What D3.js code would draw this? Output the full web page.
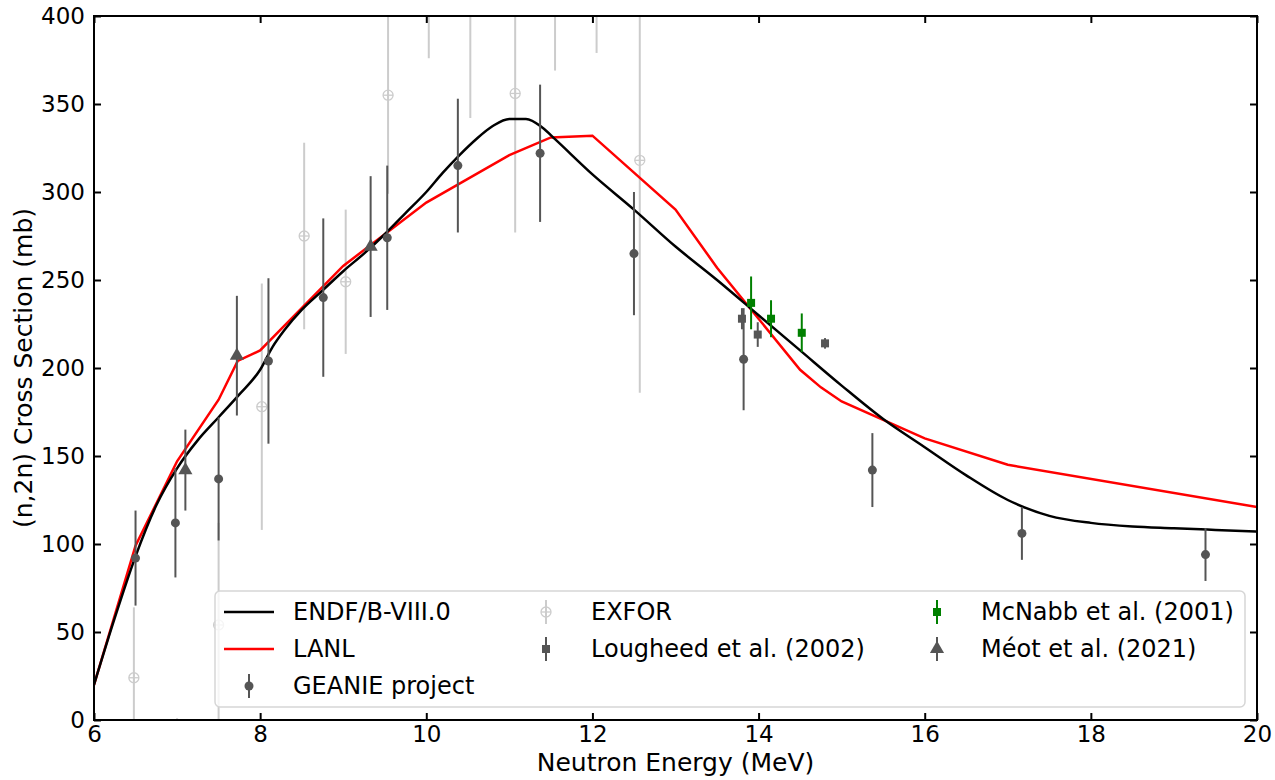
<!DOCTYPE html>
<html>
<head>
<meta charset="utf-8">
<script src="https://cdn.jsdelivr.net/npm/d3@7"></script>
<style>
  body { margin: 0; background: #fff; }
  text { font-family: "DejaVu Sans", sans-serif; }
</style>
</head>
<body>
<div id="content"></div>
<script>
// evaluated cross sections (MeV, mb)
endfE = [6.0, 6.25, 6.5, 6.75, 7.0, 7.25, 7.5, 7.75, 8.0, 8.15, 8.3, 8.5, 8.75, 9.0, 9.25, 9.5, 9.75, 10.0, 10.2, 10.4, 10.6, 10.8, 11.0, 11.2, 11.4, 11.55, 12.0, 12.5, 13.0, 13.5, 14.0, 14.5, 15.0, 15.5, 16.0, 16.5, 17.0, 17.5, 18.0, 18.5, 19.0, 19.5, 20.0]
endfXS = [20, 58, 93, 122, 143, 159, 172, 185, 199, 212, 222, 233, 244, 255, 265, 276, 288, 300, 311, 321, 330, 337.5, 341.5, 341.5, 336.5, 330, 310, 290, 269, 250, 230, 210, 190, 171, 155, 139, 125, 116, 112, 110, 109, 108, 107]
lanlE = [6.0, 6.5, 7.0, 7.5, 7.73, 8.0, 8.5, 9.0, 9.5, 10.0, 11.0, 11.5, 12.0, 13.0, 13.5, 14.0, 14.5, 14.75, 15.0, 16.0, 17.0, 20.0]
lanlXS = [20, 99, 147, 182, 204, 210, 234, 258, 276, 294, 321, 331, 332, 290, 257, 228, 199, 189, 181, 160, 145, 121]

// measurements: energy, value, error
exforE = [6.48, 7.0, 7.5, 8.02, 8.53, 9.03, 9.54, 10.03, 10.53, 11.07, 11.55, 12.05, 12.57]
exforXS = [24, -4, 54, 178, 275, 249, 355, 440, 415, 356, 440, 440, 318]
exforErr = [40, 5, 58, 70, 53, 41, 56, 64, 73, 79, 71, 61, 132]

geanieE = [6.5, 6.98, 7.5, 8.1, 8.76, 9.53, 10.38, 11.37, 12.5, 13.82, 15.37, 17.17, 19.38]
geanieXS = [92, 112, 137, 204, 240, 274, 315, 322, 265, 205, 142, 106, 94]
geanieErr = [27, 31, 35, 47, 45, 41, 38, 39, 35, 29, 21, 15, 15]

lougheedE = [13.8, 13.99, 14.8]
lougheedXS = [228, 219, 214]
lougheedErr = [6, 7, 3]

mcnabbE = [13.91, 14.15, 14.52]
mcnabbXS = [237, 228, 220]
mcnabbErr = [15, 10.5, 11]

meotE = [7.1, 7.72, 9.33]
meotXS = [142, 207, 269]
meotErr = [23, 34, 40]

xTicks = [6, 8, 10, 12, 14, 16, 18, 20]
yTicks = [0, 50, 100, 150, 200, 250, 300, 350, 400]

svgwidth = 1275
svgheight = 780
margin = {top: 16, right: 18, bottom: 60, left: 94}
width = svgwidth - margin.left - margin.right
height = svgheight - margin.top - margin.bottom

darkGray = "#555555"
lightGray = "#cccccc"
green = "#008000"

var x = d3.scaleLinear().domain([6, 20]).range([0, width])
var y = d3.scaleLinear().domain([0, 400]).range([height, 0])

var svg = d3.select("#content").append("svg")
  .attr("width", svgwidth)
  .attr("height", svgheight)

svg.append("defs").append("clipPath").attr("id", "clip")
  .append("rect").attr("width", width).attr("height", height)

g = svg.append("g").attr("transform", "translate(" + margin.left + "," + margin.top + ")")
plot = g.append("g").attr("clip-path", "url(#clip)")

zip = function(es, vs, errs) {
  return es.map(function(e, i) { return {e: e, v: vs[i], err: errs ? errs[i] : 0} })
}

drawBars = function(data, color) {
  plot.append("g").selectAll("line").data(data).enter().append("line")
    .attr("x1", function(d) { return x(d.e) })
    .attr("x2", function(d) { return x(d.e) })
    .attr("y1", function(d) { return y(d.v - d.err) })
    .attr("y2", function(d) { return y(d.v + d.err) })
    .attr("stroke", color)
    .attr("stroke-width", 2)
}

// marker drawing helpers, also used in the legend
circleMark = function(sel, color, r) {
  sel.append("circle").attr("r", r).attr("fill", color)
}
squareMark = function(sel, color, s) {
  sel.append("rect").attr("x", -s / 2).attr("y", -s / 2).attr("width", s).attr("height", s).attr("fill", color)
}
triMark = function(sel, color, s) {
  sel.append("path").attr("d", d3.symbol(d3.symbolTriangle, s * s * 0.6)).attr("fill", color)
}
oplusMark = function(sel, color, r) {
  sel.append("circle").attr("r", r).attr("fill", "none").attr("stroke", color).attr("stroke-width", 1.3)
  sel.append("line").attr("x1", -r).attr("x2", r).attr("stroke", color).attr("stroke-width", 1.3)
  sel.append("line").attr("y1", -r).attr("y2", r).attr("stroke", color).attr("stroke-width", 1.3)
}

drawMarks = function(data, fn, color, size) {
  plot.append("g").selectAll("g").data(data).enter().append("g")
    .attr("transform", function(d) { return "translate(" + x(d.e) + "," + y(d.v) + ")" })
    .each(function() { fn(d3.select(this), color, size) })
}

// EXFOR behind the curves
exfor = zip(exforE, exforXS, exforErr)
drawBars(exfor, lightGray)
drawMarks(exfor, oplusMark, lightGray, 5)

var line = d3.line().x(function(d) { return x(d.e) }).y(function(d) { return y(d.v) })
plot.append("path").datum(zip(lanlE, lanlXS))
  .attr("d", line).attr("fill", "none").attr("stroke", "#ff0000").attr("stroke-width", 2.5)
plot.append("path").datum(zip(endfE, endfXS))
  .attr("d", line.curve(d3.curveMonotoneX)).attr("fill", "none").attr("stroke", "#000").attr("stroke-width", 2.5)

geanie = zip(geanieE, geanieXS, geanieErr)
drawBars(geanie, darkGray)
drawMarks(geanie, circleMark, darkGray, 4.5)

lougheed = zip(lougheedE, lougheedXS, lougheedErr)
drawBars(lougheed, darkGray)
drawMarks(lougheed, squareMark, darkGray, 8)

mcnabb = zip(mcnabbE, mcnabbXS, mcnabbErr)
drawBars(mcnabb, green)
drawMarks(mcnabb, squareMark, green, 8)

meot = zip(meotE, meotXS, meotErr)
drawBars(meot, darkGray)
drawMarks(meot, triMark, darkGray, 12)

// axes with inward ticks on all sides
styleAxis = function(a) {
  a.select(".domain").remove()
  a.selectAll(".tick line").attr("stroke", "#000").attr("stroke-width", 2)
  a.selectAll("text").style("font-size", "23px").attr("fill", "#000").style("font-family", "DejaVu Sans")
}
g.append("g").attr("transform", "translate(0," + height + ")")
  .call(d3.axisBottom(x).tickValues(xTicks).tickSize(-7).tickPadding(6).tickFormat(d3.format("d")))
  .call(styleAxis)
g.append("g")
  .call(d3.axisTop(x).tickValues(xTicks).tickSize(-7).tickFormat(""))
  .call(styleAxis)
g.append("g")
  .call(d3.axisLeft(y).tickValues(yTicks).tickSize(-7).tickPadding(9).tickFormat(d3.format("d")))
  .call(styleAxis)
g.append("g").attr("transform", "translate(" + width + ",0)")
  .call(d3.axisRight(y).tickValues(yTicks).tickSize(-7).tickFormat(""))
  .call(styleAxis)

g.append("rect").attr("width", width).attr("height", height)
  .attr("fill", "none").attr("stroke", "#000").attr("stroke-width", 2)

// axis titles
svg.append("text")
  .attr("x", margin.left + width / 2).attr("y", 771)
  .attr("text-anchor", "middle").style("font-size", "25px")
  .text("Neutron Energy (MeV)")
svg.append("text")
  .attr("transform", "translate(32," + (margin.top + height / 2) + ") rotate(-90)")
  .attr("text-anchor", "middle").style("font-size", "25px")
  .text("(n,2n) Cross Section (mb)")

// legend
legend = svg.append("g")
legend.append("rect")
  .attr("x", 215).attr("y", 591).attr("width", 1030).attr("height", 116).attr("rx", 5)
  .attr("fill", "#fff").attr("fill-opacity", 0.8).attr("stroke", "#d6d6d6").attr("stroke-width", 1.5)

legendItems = [
  {name: "ENDF/B-VIII.0", kind: "line", color: "#000", col: 0, row: 0},
  {name: "LANL", kind: "line", color: "#ff0000", col: 0, row: 1},
  {name: "GEANIE project", kind: circleMark, color: darkGray, size: 4.5, col: 0, row: 2},
  {name: "EXFOR", kind: oplusMark, color: lightGray, size: 5, col: 1, row: 0},
  {name: "Lougheed et al. (2002)", kind: squareMark, color: darkGray, size: 8, col: 1, row: 1},
  {name: "McNabb et al. (2001)", kind: squareMark, color: green, size: 8, col: 2, row: 0},
  {name: "Méot et al. (2021)", kind: triMark, color: darkGray, size: 12, col: 2, row: 1}
]
colX = [249, 546, 937]
textX = [293, 591, 981]
rowY = [612, 649, 686]

legendItems.forEach(function(it) {
  var cx = colX[it.col], cy = rowY[it.row]
  if (it.kind == "line") {
    legend.append("line").attr("x1", cx - 25).attr("x2", cx + 25).attr("y1", cy).attr("y2", cy)
      .attr("stroke", it.color).attr("stroke-width", 2.5)
  } else {
    legend.append("line").attr("x1", cx).attr("x2", cx).attr("y1", cy - 12).attr("y2", cy + 12)
      .attr("stroke", it.color).attr("stroke-width", 2)
    var m = legend.append("g").attr("transform", "translate(" + cx + "," + cy + ")")
    it.kind(m, it.color, it.size)
  }
  legend.append("text").attr("x", textX[it.col]).attr("y", cy).attr("dy", "0.35em")
    .style("font-size", "24px").attr("fill", "#000").text(it.name)
})
</script>
</body>
</html>
